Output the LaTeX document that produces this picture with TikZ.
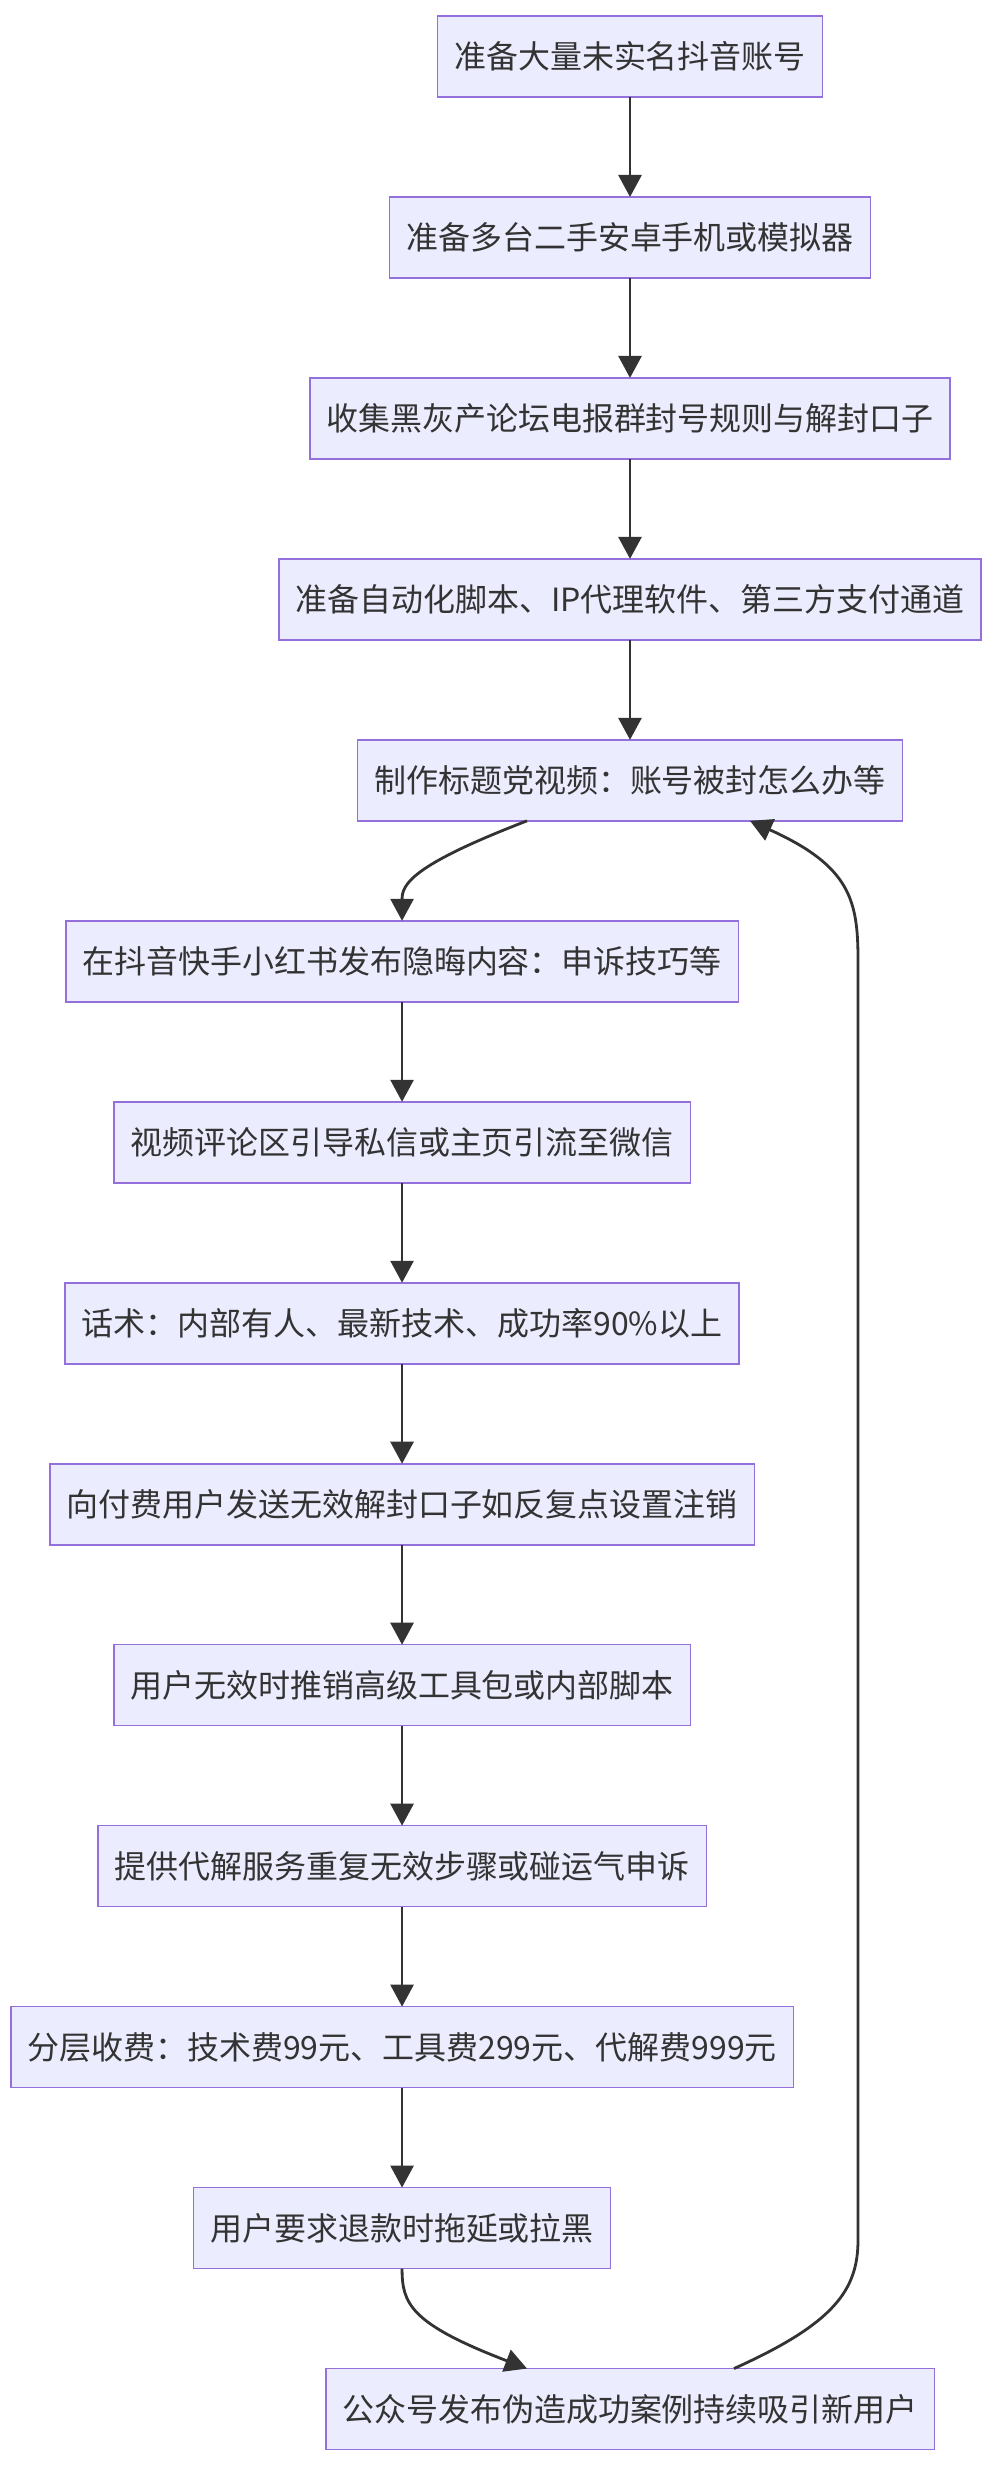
\documentclass[tikz,border=0pt]{standalone}
\usepackage{fontspec}
\setmainfont{Noto Sans CJK SC}
\usepackage{xcolor}
\usetikzlibrary{arrows.meta,positioning,calc}
\definecolor{stepfill}{HTML}{ECECFF}
\definecolor{stepline}{HTML}{9370DB}
\definecolor{inkgray}{HTML}{333333}
\tikzset{
  stepbox/.style={rectangle, draw=stepline, fill=stepfill, line width=0.9pt, outer sep=0pt, minimum height=1.62cm, inner xsep=0.33cm, text=inkgray, font=\fontsize{18.2}{22}\selectfont},
  flow/.style={-{Triangle[length=0.44cm,width=0.46cm]}, line width=1.6pt, draw=inkgray}
}

\begin{document}
\begin{tikzpicture}[x=0.02cm, y=-0.02cm, node distance=2cm]
\useasboundingbox (0,0) rectangle (996,2470);
% preparation
\node[stepbox] (acct) at (630,56.5) {准备大量未实名抖音账号};
\node[stepbox, below=of acct] (phone) {准备多台二手安卓手机或模拟器};
\node[stepbox, below=of phone] (rules) {收集黑灰产论坛电报群封号规则与解封口子};
\node[stepbox, below=of rules] (tools) {准备自动化脚本、IP代理软件、第三方支付通道};
\node[stepbox, below=of tools] (video) {制作标题党视频：账号被封怎么办等};
% main chain
\node[stepbox, below=of video, xshift=-4.56cm] (post) {在抖音快手小红书发布隐晦内容：申诉技巧等};
\node[stepbox, below=of post] (lure) {视频评论区引导私信或主页引流至微信};
\node[stepbox, below=of lure] (pitch) {话术：内部有人、最新技术、成功率90\%以上};
\node[stepbox, below=of pitch] (tips) {向付费用户发送无效解封口子如反复点设置注销};
\node[stepbox, below=of tips] (upsell) {用户无效时推销高级工具包或内部脚本};
\node[stepbox, below=of upsell] (service) {提供代解服务重复无效步骤或碰运气申诉};
\node[stepbox, below=of service] (fees) {分层收费：技术费99元、工具费299元、代解费999元};
\node[stepbox, below=of fees] (refund) {用户要求退款时拖延或拉黑};
\node[stepbox, below=of refund, xshift=4.56cm] (recruit) {公众号发布伪造成功案例持续吸引新用户};

\draw[flow] (acct) -- (phone);
\draw[flow] (phone) -- (rules);
\draw[flow] (rules) -- (tools);
\draw[flow] (tools) -- (video);
\draw[flow] ($(video.south)+(-103,0)$) .. controls ($(video.south)+(-220,45)$) and ($(post.north)+(0,-36)$) .. (post.north);
\draw[flow] (post) -- (lure);
\draw[flow] (lure) -- (pitch);
\draw[flow] (pitch) -- (tips);
\draw[flow] (tips) -- (upsell);
\draw[flow] (upsell) -- (service);
\draw[flow] (service) -- (fees);
\draw[flow] (fees) -- (refund);
\draw[flow] (refund.south) .. controls ($(refund.south)+(0,35)$) and ($(recruit.north)+(-220,-45)$) .. ($(recruit.north)+(-103,0)$);
% loop back
\draw[flow] ($(recruit.north)+(104,0)$) .. controls ($(recruit.north)+(204,-45)$) and (858,2290) .. (858,2240) -- (858,960) .. controls (858,900) and (850,866) .. ($(video.south)+(120,0)$);
\end{tikzpicture}
\end{document}
